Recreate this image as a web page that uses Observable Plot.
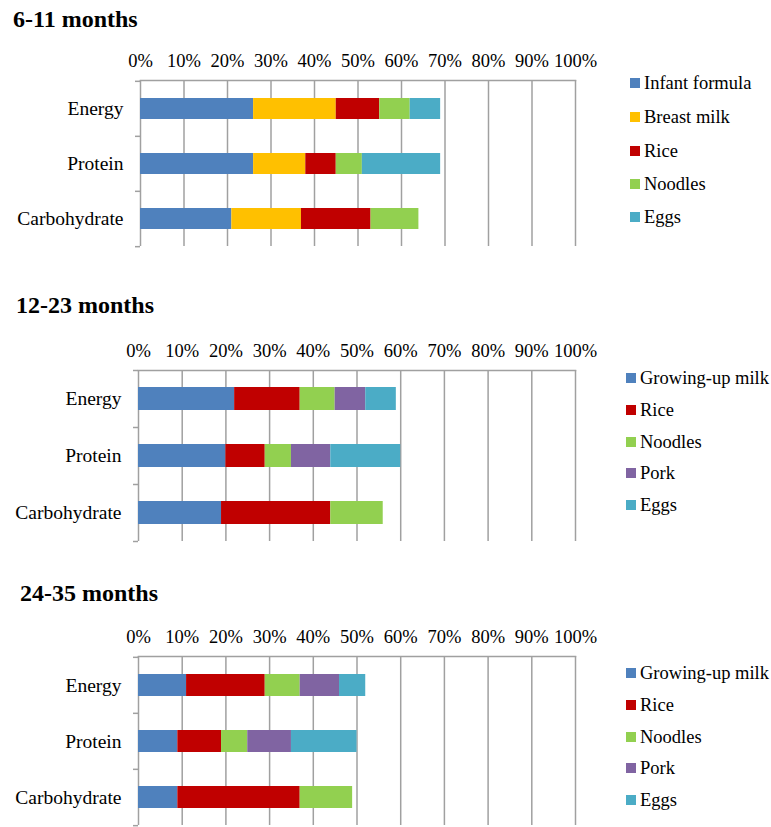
<!DOCTYPE html>
<html><head><meta charset="utf-8">
<script src="https://cdn.jsdelivr.net/npm/d3@7"></script>
<script src="https://cdn.jsdelivr.net/npm/@observablehq/plot@0.6"></script>
<style>
body{margin:0;background:#fff;}
#root{position:relative;width:771px;height:827px;font-family:"Liberation Serif","Times New Roman",serif;overflow:hidden;background:#fff;}
.title{position:absolute;font-family:"Liberation Serif","Times New Roman",serif;font-weight:bold;font-size:24px;line-height:1;white-space:nowrap;}
.lrow{position:absolute;white-space:nowrap;display:flex;align-items:center;font-family:"Liberation Serif","Times New Roman",serif;font-size:18.5px;line-height:1;height:20px;color:#000;}
.sw{width:10px;height:10px;margin-right:4px;flex:none;}
.panel{position:absolute;left:0;}
</style></head><body><div id="root"></div>
<script>
const nutrients = ["Energy", "Protein", "Carbohydrate"];
const titles = ["6-11 months", "12-23 months", "24-35 months"];
const tickValues = [0, 10, 20, 30, 40, 50, 60, 70, 80, 90, 100];

const foods611 = ["Infant formula", "Breast milk", "Rice", "Noodles", "Eggs"];
const foods1223 = ["Growing-up milk", "Rice", "Noodles", "Pork", "Eggs"];
const foods2435 = ["Growing-up milk", "Rice", "Noodles", "Pork", "Eggs"];

// percent contributions; rows: Energy, Protein, Carbohydrate; columns follow the food list
const values611 = [[26, 19, 10, 7, 7], [26, 12, 7, 6, 18], [21, 16, 16, 11, 0]];
const values1223 = [[22, 15, 8, 7, 7], [20, 9, 6, 9, 16], [19, 25, 12, 0, 0]];
const values2435 = [[11, 18, 8, 9, 6], [9, 10, 6, 10, 15], [9, 28, 12, 0, 0]];

const colorOf = {
  "Infant formula": "#4F81BD", "Growing-up milk": "#4F81BD", "Breast milk": "#FFC000",
  "Rice": "#C00000", "Noodles": "#92D050", "Pork": "#8064A2", "Eggs": "#4BACC6"
};

const panels = [
  {title: titles[0], foods: foods611, values: values611, top: 0, height: 262, plotH: 166, x0: 140, x1: 575,
   titleX: 13, titleY: 19, legX: 630, legY: [83, 117, 151, 184, 217]},
  {title: titles[1], foods: foods1223, values: values1223, top: 290, height: 265, plotH: 171, x0: 138, x1: 575,
   titleX: 16, titleY: 305, legX: 626, legY: [378, 410, 442, 473, 505]},
  {title: titles[2], foods: foods2435, values: values2435, top: 576, height: 251, plotH: 169, x0: 138, x1: 575,
   titleX: 20, titleY: 593, legX: 626, legY: [673, 705, 737, 768, 800]}
];

const root = document.getElementById("root");
const grid = "#a0a0a0";

for (const p of panels) {
  const data = [];
  nutrients.forEach((n, i) => p.foods.forEach((f, j) => {
    if (p.values[i][j] > 0) data.push({nutrient: n, food: f, value: p.values[i][j]});
  }));
  const step = p.plotH / nutrients.length;
  const chart = Plot.plot({
    width: 771, height: p.height,
    marginTop: 80, marginLeft: p.x0, marginRight: 771 - p.x1, marginBottom: p.height - 80 - p.plotH,
    style: {fontFamily: "'Liberation Serif', 'Times New Roman', serif", color: "#000", background: "transparent", overflow: "visible"},
    x: {domain: [0, 100], label: null},
    y: {domain: nutrients, padding: 0, label: null},
    color: {domain: p.foods, range: p.foods.map(f => colorOf[f])},
    marks: [
      Plot.gridX(tickValues, {stroke: grid, strokeOpacity: 1, strokeWidth: 1.5}),
      Plot.frame({anchor: "top", stroke: grid, strokeWidth: 1.5}),
      Plot.ruleY(nutrients, {y: d => d, x1: -1.15, x2: 0, dy: -step / 2, stroke: grid, strokeWidth: 1.5}),
      Plot.ruleY([nutrients[nutrients.length - 1]], {y: d => d, x1: -1.15, x2: 0, dy: step / 2, stroke: grid, strokeWidth: 1.5}),
      Plot.barX(data, Plot.stackX({x: "value", y: "nutrient", fill: "food", order: p.foods, insetTop: 17, insetBottom: 17})),
      Plot.axisX({anchor: "top", ticks: tickValues, tickSize: 0, tickPadding: 14, tickFormat: d => d + "%", fontSize: 18.5, label: null}),
      Plot.axisY({tickSize: 0, tickPadding: 17, fontSize: 19.5, label: null})
    ]
  });
  chart.classList.add("panel");
  chart.style.top = p.top + "px";
  root.appendChild(chart);

  const t = document.createElement("div");
  t.className = "title";
  t.textContent = p.title;
  t.style.left = p.titleX + "px";
  t.style.top = (p.titleY - 12) + "px";
  root.appendChild(t);

  p.foods.forEach((f, j) => {
    const r = document.createElement("div");
    r.className = "lrow";
    r.style.left = p.legX + "px";
    r.style.top = (p.legY[j] - 10) + "px";
    const s = document.createElement("span");
    s.className = "sw";
    s.style.background = colorOf[f];
    const l = document.createElement("span");
    l.textContent = f;
    r.appendChild(s); r.appendChild(l);
    root.appendChild(r);
  });
}
</script></body></html>
